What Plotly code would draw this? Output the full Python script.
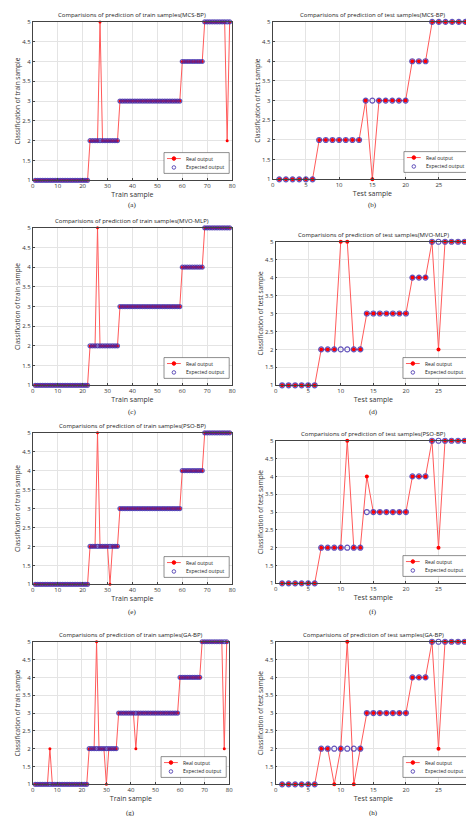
import plotly.graph_objs as go

# expected class labels
train_x = list(range(1, 80))
train_expected = [1]*22 + [2]*12 + [3]*25 + [4]*9 + [5]*11
test_x = list(range(1, 31))
test_expected = [1]*6 + [2]*7 + [3]*7 + [4]*3 + [5]*7

# misclassified samples: {sample: predicted class}
mcs_train_err = {27: 5, 78: 2}
mcs_test_err = {15: 1}
mvo_train_err = {26: 5}
mvo_test_err = {10: 5, 11: 5, 25: 2}
pso_train_err = {26: 5, 31: 1}
pso_test_err = {11: 5, 14: 4, 25: 2}
ga_train_err = {7: 2, 26: 5, 30: 1, 42: 2, 78: 2}
ga_test_err = {9: 1, 11: 5, 12: 1, 25: 2}


def real_output(expected, errs):
    out = list(expected)
    for k, v in errs.items():
        out[k - 1] = v
    return out


W, H = 474, 816
# panel rectangles in pixels: (x0, x1, y0, y1)
panels = [
    ('train', 'MCS-BP', mcs_train_err, (23, 225, 10, 170), '(a)', 195),
    ('test', 'MCS-BP', mcs_test_err, (266, 468, 10, 169), '(b)', 195),
    ('train', 'MVO-MLP', mvo_train_err, (23, 225, 218, 377), '(c)', 404),
    ('test', 'MVO-MLP', mvo_test_err, (269, 467, 232, 377), '(d)', 404),
    ('train', 'PSO-BP', pso_train_err, (23, 225, 425, 578), '(e)', 606),
    ('test', 'PSO-BP', pso_test_err, (269, 467, 433, 577), '(f)', 606),
    ('train', 'GA-BP', ga_train_err, (23, 222, 636, 780), '(g)', 809),
    ('test', 'GA-BP', ga_test_err, (269, 467, 636, 780), '(h)', 809),
]

RED = '#ff5a5a'
BLUE = 'rgba(60,40,170,0.8)'
fig = go.Figure()
layout = dict(width=W, height=H, margin=dict(l=0, r=0, t=0, b=0), showlegend=False,
              plot_bgcolor='white', paper_bgcolor='white',
              font=dict(family='Open Sans', size=6, color='#333'),
              annotations=[], shapes=[])


def px(x, y):
    return x / W, 1 - y / H


for i, (kind, model, errs, (x0, x1, y0, y1), cap, cy) in enumerate(panels):
    n = i + 1
    xs = train_x if kind == 'train' else test_x
    exp = train_expected if kind == 'train' else test_expected
    real = real_output(exp, errs)
    ax = '' if n == 1 else str(n)
    msize = 4 if kind == 'train' else 5
    fig.add_trace(go.Scatter(x=xs, y=real, name='Real output', mode='lines+markers',
                             line=dict(color=RED, width=1), cliponaxis=False,
                             marker=dict(color='red', size=msize - 1),
                             xaxis='x' + ax, yaxis='y' + ax))
    fig.add_trace(go.Scatter(x=xs, y=exp, name='Expected output', mode='markers',
                             marker=dict(color=BLUE, size=msize,
                                         symbol='circle-open', line=dict(width=1.2)),
                             cliponaxis=False, xaxis='x' + ax, yaxis='y' + ax))
    axstyle = dict(showline=True, mirror=True, linecolor='#444', linewidth=0.8,
                   gridcolor='#e4e4e4', ticks='inside', ticklen=2, zeroline=False,
                   tickfont=dict(size=6))
    layout['xaxis' + ax] = dict(domain=[x0 / W, x1 / W], anchor='y' + ax,
                                range=[0, 80] if kind == 'train' else [0, 30],
                                dtick=10 if kind == 'train' else 5,
                                title=dict(text=kind.capitalize() + ' sample', standoff=0,
                                           font=dict(size=7)), **axstyle)
    layout['yaxis' + ax] = dict(domain=[1 - y1 / H, 1 - y0 / H], anchor='x' + ax,
                                range=[1, 5], dtick=0.5,
                                title=dict(text='Classification of %s sample' % kind,
                                           standoff=0, font=dict(size=6.5)), **axstyle)
    # title and caption
    layout['annotations'].append(dict(
        text='Comparisions of prediction of %s samples(%s)' % (kind, model),
        x=(x0 + x1) / 2 / W, y=1 - (y0 - 1) / H, xref='paper', yref='paper',
        xanchor='center', yanchor='bottom', showarrow=False,
        font=dict(size=6, color='#222')))
    layout['annotations'].append(dict(
        text=cap, x=(x0 + x1) / 2 / W, y=1 - cy / H, xref='paper', yref='paper',
        xanchor='center', yanchor='middle', showarrow=False,
        font=dict(size=7, family='Liberation Serif', color='#222')))
    # hand-drawn compact legend box
    lx1, ly1 = x1 - 3, y1 - 7
    lx0, ly0 = lx1 - 66, ly1 - 21
    bx0, by0 = px(lx0, ly1)
    bx1, by1 = px(lx1, ly0)
    layout['shapes'].append(dict(type='rect', xref='paper', yref='paper', x0=bx0, y0=by0,
                                 x1=bx1, y1=by1, line=dict(color='#444', width=0.6),
                                 fillcolor='white'))
    ra, rb = px(lx0 + 3, ly0 + 6)
    rc, _ = px(lx0 + 17, ly0 + 6)
    layout['shapes'].append(dict(type='line', xref='paper', yref='paper', x0=ra, y0=rb,
                                 x1=rc, y1=rb, line=dict(color=RED, width=1)))
    for cx, cyy, col, fill in [(lx0 + 10, ly0 + 6, 'red', 'red'),
                               (lx0 + 10, ly0 + 15, BLUE, 'white')]:
        a0, b0 = px(cx - 1.8, cyy + 1.8)
        a1, b1 = px(cx + 1.8, cyy - 1.8)
        layout['shapes'].append(dict(type='circle', xref='paper', yref='paper',
                                     x0=a0, y0=b0, x1=a1, y1=b1, fillcolor=fill,
                                     line=dict(color=col, width=1)))
    for txt, ty in [('Real output', ly0 + 6), ('Expected output', ly0 + 15)]:
        tx, tyy = px(lx0 + 20, ty)
        layout['annotations'].append(dict(
            text=txt, x=tx, y=tyy, xref='paper', yref='paper', xanchor='left',
            yanchor='middle', showarrow=False, font=dict(size=5, color='#222')))

fig.update_layout(**layout)
fig.write_html('out.html')
